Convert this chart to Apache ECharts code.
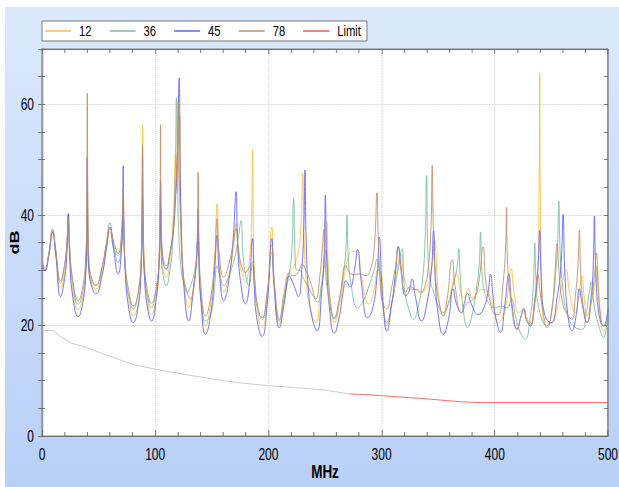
<!DOCTYPE html>
<html>
<head>
<meta charset="utf-8">
<script src="https://cdn.jsdelivr.net/npm/echarts@6/dist/echarts.min.js"></script>
<style>
  html, body { margin: 0; padding: 0; background: #fff; overflow: hidden; }
  #panel { position: absolute; left: 5px; top: 7px; right: 0; bottom: 0;
           background: linear-gradient(to bottom, #dce9fc 0%, #c9dcfa 50%, #b8cff7 100%); }
  #chart { position: absolute; left: 0; top: 0; height: 487px; transform-origin: 0 0; }
</style>
</head>
<body>
<div id="panel"></div>
<div id="chart"></div>
<script>
// Frequency sweep, [MHz, dB] pairs per measurement
const seriesNames = ['12', '36', '45', '78', 'Limit'];

const s12 = [
  [0,31.5],[2.6,29.9],[6,33],[9.4,37.4],[12,33.5],[16.4,26.6],[20,29.5],[22,34],[23.2,38.7],[24.5,33],
  [27,27],[32,22.8],[36,25],[38.5,29],[39.5,34],[40,44.5],[40.6,34],[41.5,30],[44,27.5],[47.6,26.6],
  [53,29.5],[57,34],[60,36.9],[63.5,34],[67.3,32.6],[70,35],[71.7,42.3],[72.5,35],[74,29],[77,24.5],
  [80.6,21.7],[85,24],[87.5,30],[88.3,40],[88.8,56.3],[89.4,40],[90.5,31],[93,25],[96.7,22],[101,25],
  [103.5,30],[104.7,44],[105.4,33],[107,30],[109.7,28.7],[113,32],[116,40],[118,51],[119.5,44],[121.7,58],
  [122.5,45],[124,33],[126,27],[129.7,23.2],[133,26],[136.5,32],[137.9,40],[138.7,31],[140.5,25],[144.4,19.9],
  [149,24],[152.5,32],[154.7,42],[156.5,32],[160.6,26],[165,29],[169,34],[171.4,38.4],[173.5,33],[176,30],
  [179.7,27.8],[183,31],[185,38],[185.9,51.7],[186.8,36],[188,28],[190.5,22.5],[194.4,19.6],[199,25],[203,37.8],
  [205,28],[209.7,20.2],[214,25],[218.5,29.5],[222,30.5],[226,33],[228.5,37],[230.3,47.5],[231.5,36],[233.5,28],
  [237,23],[242,20.5],[246,26],[249.5,31],[251.5,38.8],[253,30],[255,24],[258.2,20.5],[263,24],[267,29],
  [271.5,33],[274.4,33.4],[278.8,33.2],[282,29],[289,23.9],[293,26],[297,30],[300,29],[302,23],[304.4,19.9],
  [309,24],[313,29],[317,33],[319,30],[321,27.8],[327,26.5],[332.4,26.5],[336,26],[340,27],[344,30],
  [347,35.4],[349,29],[351,24],[354.4,21.7],[359,24],[362,27],[366.2,29.3],[370,26],[373,25],[376.5,26.7],
  [380,25],[385.3,26],[389,26.5],[394,26],[398,24],[403,20.5],[407,21.5],[411,25],[414.4,30.3],[417,26],
  [421,22.3],[425.6,23],[428,21.5],[431.5,20.5],[435,23],[438,30],[439.2,45],[439.7,65.7],[440.2,45],[441.5,28],
  [445,20],[450,20.5],[455,23],[459,27],[463,30.1],[466,26],[471.2,22.3],[474,25],[477,29],[479,25],
  [481.5,21.7],[485,24],[488,27],[490.3,30.7],[492.5,24],[496.2,19],[500,20]
];

const s36 = [
  [0,31.5],[2.6,29.9],[6,33],[9.4,36.9],[12,33.5],[16.4,27.7],[20,31],[22,35],[23.2,40.2],[24.5,34],
  [27,28],[32,23.8],[36,26],[38.5,30],[40,40],[41,31],[44,28],[47.6,27.2],[53,30.5],[57,35],
  [60,38.6],[63,35],[67.3,31.4],[70,34],[71.7,39.3],[72.8,33],[74.5,28],[77,25],[80.6,23],[85,26],
  [88,33],[88.8,43],[89.6,33],[91,28],[93,25.5],[96.7,23.2],[100,25.5],[103,30],[104.7,41],[105.5,32],
  [107,29],[109.7,27.2],[113,30],[115.5,35],[117.5,45],[118.8,61.2],[119.8,45],[121,36],[123,30],[125.5,27.5],
  [128.2,26],[131,27],[135,30],[137.9,35.7],[139,29],[141,24],[144.4,20.8],[149,22],[152,26],[154.7,30.8],
  [157,29],[160.6,27.2],[165,29],[170,32],[173.5,36],[175.9,39],[177.5,33],[180,29],[182.6,27.2],[185.9,31],
  [188,27],[190.5,23],[194.4,21.1],[199,26],[203,33.2],[205.5,27],[209.7,20.8],[214,25],[218,29],[220.5,33],
  [222.3,43],[223.5,33],[225,30],[227.3,30],[231,28.5],[235,27],[239,25.5],[243.5,24.2],[247,27.5],[250.9,33.5],
  [253,28],[255,24],[258.2,21.1],[262,24],[266,29],[268.5,34],[269.4,39.9],[270.5,33],[273,27.5],[278.8,23.2],
  [284,24.5],[288,26.6],[293.5,30],[296,32],[298,30],[301,24],[304.4,20.5],[309,24],[314,29.5],[318.2,33.9],
  [319.5,29],[321,25.4],[324,23],[328,21.1],[332,23],[336,28],[338.5,36],[339.7,47.1],[340.8,34],[343,28],
  [346,26],[350,23.5],[354.4,22.3],[359,24],[364,28],[367,31],[368.2,33.9],[369.5,29],[372,23],[375.9,19.6],
  [380,22],[384,27],[386.2,31],[387.4,36.9],[388.6,30],[391,26],[395,24],[400.6,23.2],[405,23.5],[410.9,23.2],
  [414.7,24.8],[418,22],[422,19],[427,17.5],[431,21],[434,27],[435.3,34.9],[436.5,28],[439,23],[446,19.9],
  [451,24],[454,30],[455.5,35],[456.5,42.5],[457.8,33],[460,27],[464,22],[470,19.8],[477,19.3],[481,22.5],
  [483.5,26],[485.3,27.9],[487.5,24],[491,20.5],[496.2,17.8],[500,24.6]
];

const s45 = [
  [0,31.5],[2.6,29.9],[6,32.5],[9.4,36.9],[12,33],[16.4,25.2],[20,28.5],[22,33],[23.2,40.2],[24.5,32],
  [27,25.5],[32,21.6],[36,24],[38.5,29],[39.5,36],[40,50.5],[40.6,36],[41.5,30],[44,27],[47.6,25.7],
  [53,29],[57,34],[60,37.8],[63,34],[67.3,29.3],[70,33],[71.2,40],[71.7,48.9],[72.3,38],[73.5,30],
  [76,24],[80.6,20.5],[85,23.5],[87.5,30],[88.4,38],[88.8,50.8],[89.3,37],[90.5,29],[93,23.5],[96.7,20.8],
  [101,25],[103.5,32],[104.3,38],[104.7,46],[105.2,37],[106.5,32],[109.7,30.2],[113,33],[116,37],[118,43],
  [119.5,50],[121.2,64.8],[122,50],[123,38],[125,28],[129.7,20.8],[133,25],[136.5,32],[137.9,41.1],[138.6,32],
  [140.5,24],[144.4,18.4],[149,22],[152.5,30],[154.7,36.3],[156.5,30],[160.6,24.5],[165,28],[169,36],[171.4,44.2],
  [173,34],[176,27],[179.7,23.9],[183,27],[185.9,35.7],[187.5,27],[190,21],[194.4,18],[199,24],[203,35.7],
  [205,27],[209.7,19.6],[214,24],[218.5,29],[221,28],[223,27],[226.5,25.2],[229.5,30],[231.3,38],[232.3,48.1],
  [233.3,36],[235.5,26],[239,21],[243,19],[247,26],[249.3,33],[250.3,43.6],[251.5,32],[254,23],[258.2,18.6],
  [263,22],[266,26],[268.5,28.1],[272.3,27],[276,30],[278.8,33.7],[282,28],[287.6,21.4],[292,23],[296,29],
  [298,36],[300,28],[302,22],[304.4,19],[309,24],[312.5,30],[314.7,34.3],[317,31],[321,25.4],[324,26],
  [327,28.4],[330,25],[335.3,20.8],[340,24],[344,30],[345.9,37.2],[347.5,28],[350,22],[354.4,18.4],[359,21],
  [363.2,26.6],[366,24],[370.6,22.3],[373,24],[375.9,25.8],[379,24],[385.3,22],[390,23],[394,26],[396.2,29.3],
  [398.5,25],[400.6,21.7],[405,18.7],[409,24],[412.4,29.3],[415,24],[419.7,19.3],[423,21.5],[425.6,23],[428,21],
  [431.5,19.9],[435,24],[438,30],[439.7,37.2],[441,28],[444,22],[450,20.5],[455,25],[458.5,31],[460.3,40.1],
  [461.8,30],[464.5,22],[468.2,19],[472,22],[474.7,26.6],[477,24],[481.5,20.5],[485,25],[487,31],[488,39.8],
  [489.2,30],[492,22],[496.2,19.9],[500,23]
];

const s78 = [
  [0,31.5],[2.6,30.3],[6,33],[9.4,37.4],[12,34],[16.4,28.1],[20,31],[22,35],[23.2,39.3],[24.5,34],
  [27,28.5],[32,24.5],[36,27],[38.5,32],[39.5,40],[40,62],[40.6,40],[41.5,32],[44,28.5],[47.6,27.3],
  [53,30.5],[57,35],[60,37.5],[63.5,35],[67.3,33],[70,36],[71.7,44.8],[72.5,37],[74,30],[77,26],
  [80.6,23.5],[85,26],[87.7,33],[88.4,40],[88.8,52.6],[89.3,40],[90.5,31],[93,26.5],[96.7,24],[101,27],
  [103.5,33],[104.2,40],[104.7,56.3],[105.2,40],[106.5,33],[109.7,30.8],[113,33],[116,38],[118,45],[119.5,50],
  [120.3,60.5],[121.2,48],[122.5,38],[124.5,30],[127,27],[131.2,24.8],[134.5,28],[137,34],[137.9,47.7],[138.8,34],
  [140.5,27],[144.4,21.7],[149,25],[152.5,32],[154.7,39.3],[156.5,33],[160.6,28.7],[165,31],[169,35],[171.4,37.5],
  [173.5,34],[176,31],[179.7,29.6],[183,30.5],[185.9,31.4],[188,28],[190.5,23.5],[194.4,21.4],[199,26],[203,34.5],
  [205.5,27],[209.7,21.1],[214,26],[218.5,29.5],[222,29],[226,29.5],[230,31],[233,30],[237,28],[242,24.8],
  [245.5,29],[248,35],[248.8,37.4],[250,32],[252.5,26],[258.2,21.4],[263,25],[268.5,30.8],[272,29.5],[276,29.2],
  [281,29.3],[286,29],[290,30],[293.5,34],[295.9,44],[297,36],[299,27],[301,24],[304.4,23],[309,27],
  [312.5,31],[314.7,34.2],[317,30],[321,26],[325,27],[330,26.5],[335,26],[338,27],[341,30],[343.5,37],
  [344.7,49],[345.8,37],[348,28],[351,24],[354.4,21.7],[358,25],[362.4,31.9],[365,27],[370.6,22.3],[375,23.9],
  [382,25],[386,28],[389.7,34.2],[392,28],[395,25],[400.6,22],[403.5,22],[407,27],[409.5,34],[410.3,41.3],
  [411.2,32],[414,25],[419.7,19.3],[423,21.5],[425.6,23],[428,21],[431.5,20.2],[435,24],[438,29.3],[440,26],
  [443,22],[446,19.6],[450,22],[453,29],[455,34.8],[457,29],[460,24],[464,22],[468.2,21.1],[471,25],
  [473.5,31],[474.7,37.2],[476,29],[478.5,23],[481.5,20.5],[485,24],[488,29],[489.7,33.1],[491.5,26],[494,21],
  [496.2,19.9],[500,21]
];

// Limit curve: lower-frequency part drawn in grey, the rest in red
const limitGrey = [
  [0,19.1],[10,19.1],[16,18],[26,16.8],[36,16.2],[51,15.1],[63,14.2],[81,12.9],[98,12.2],[110,11.7],
  [130,11],[154,10.2],[175,9.6],[200,9.1],[228,8.7],[250,8.3],[272,7.6]
];
const limitRed = [
  [272,7.6],[285,7.5],[300,7.3],[320,7.0],[335,6.8],[352,6.5],[370,6.2],[385,6.05],[500,6.05]
];

const xTicks = { min: 0, max: 500, step: 100, minorSplit: 5 };
const yTicks = { min: 0, max: 70, step: 20, minorStep: 5 };

const colors = { '12': '#ffbf40', '36': '#78bf9c', '45': '#6262ff', '78': '#c08e6a', 'Limit': '#ff5252', grey: '#c4c4c4' };

// The chart is laid out wide and squeezed horizontally, which gives the condensed lettering
const SX = 0.75;
const W = 619, H = 487;
const hx = v => v / SX;   // horizontal length in the unsqueezed layout

const font = "'Liberation Sans', Arial, sans-serif";

function lineSeries(name, data) {
  return {
    name: name, type: 'line', data: data, xAxisIndex: 0, yAxisIndex: 0,
    symbol: 'none', showSymbol: false, smooth: 0.5,
    lineStyle: { width: 1, color: colors[name] }, itemStyle: { color: colors[name] },
    silent: true, animation: false
  };
}

const el = document.getElementById('chart');
el.style.width = hx(W) + 'px';
el.style.transform = 'scaleX(' + SX + ')';

const chart = echarts.init(el, null, { renderer: 'svg', width: hx(W), height: H });
chart.setOption({
  backgroundColor: 'transparent',
  animation: false,
  legend: {
    data: seriesNames,
    icon: 'rect',
    left: hx(42), top: 21,
    padding: [1, hx(6), 1, hx(3)],
    itemWidth: hx(26), itemHeight: 1.5, itemGap: 24,
    backgroundColor: '#ffffff', borderColor: '#666', borderWidth: 1, borderRadius: 0,
    textStyle: { fontFamily: font, fontSize: 15, lineHeight: 18, color: '#000', padding: [0, 0, 0, 5.7] },
    selectedMode: false
  },
  grid: {
    left: hx(42), right: hx(11), top: 49, bottom: 51,
    show: true, backgroundColor: '#ffffff', borderColor: '#777', borderWidth: 1,
    containLabel: false, outerBoundsMode: 'none'
  },
  xAxis: [
    {
      type: 'value', position: 'bottom', min: xTicks.min, max: xTicks.max, interval: xTicks.step,
      name: 'MHz', nameLocation: 'middle', nameGap: 27, nameMoveOverlap: false,
      nameTextStyle: { fontFamily: font, fontSize: 18, fontWeight: 'bold', color: '#000' },
      axisLine: { show: true, onZero: false, lineStyle: { color: '#666', width: 1 } },
      axisTick: { show: true, inside: true, length: 6, lineStyle: { color: '#666' } },
      minorTick: { show: true, splitNumber: xTicks.minorSplit, length: 4, lineStyle: { color: '#666' } },
      axisLabel: { margin: 10, fontFamily: font, fontSize: 16, color: '#000' },
      splitLine: { show: true, lineStyle: { type: 'dotted', color: '#c8c8c8' } }
    },
    {
      type: 'value', position: 'top', min: xTicks.min, max: xTicks.max, interval: xTicks.step,
      axisLine: { show: true, onZero: false, lineStyle: { color: '#666', width: 1 } },
      axisTick: { show: true, inside: true, length: 5, lineStyle: { color: '#666' } },
      minorTick: { show: true, splitNumber: xTicks.minorSplit, length: 4, lineStyle: { color: '#666' } },
      axisLabel: { show: false }, splitLine: { show: false }
    }
  ],
  yAxis: [
    {
      type: 'value', position: 'left', min: yTicks.min, max: yTicks.max, interval: yTicks.minorStep,
      name: 'dB', nameLocation: 'middle', nameGap: 28, nameRotate: 90, nameMoveOverlap: false,
      nameTextStyle: { fontFamily: font, fontSize: 18, fontWeight: 'bold', color: '#000' },
      axisLine: { show: true, onZero: false, lineStyle: { color: '#999', width: 2.5 } },
      axisTick: { show: true, inside: false, length: hx(4), lineStyle: { color: '#666' } },
      axisLabel: {
        margin: hx(8), fontFamily: font, fontSize: 16, color: '#000',
        formatter: function (v) { return v % yTicks.step === 0 ? String(v) : ''; }
      },
      splitLine: { show: false }
    },
    {
      type: 'value', position: 'left', min: yTicks.min, max: yTicks.max, interval: yTicks.step,
      axisLine: { show: false }, axisTick: { show: false }, axisLabel: { show: false },
      splitLine: { show: true, lineStyle: { type: 'dotted', color: '#c8c8c8' } }
    },
    {
      type: 'value', position: 'right', min: yTicks.min, max: yTicks.max, interval: yTicks.minorStep,
      axisLine: { show: true, onZero: false, lineStyle: { color: '#777', width: 1.3 } },
      axisTick: { show: true, inside: true, length: hx(4), lineStyle: { color: '#666' } },
      axisLabel: { show: false }, splitLine: { show: false }
    },
    {
      type: 'value', position: 'left', min: yTicks.min, max: yTicks.max, interval: yTicks.minorStep,
      axisLine: { show: false },
      axisTick: { show: true, inside: true, length: hx(3), lineStyle: { color: '#666' } },
      axisLabel: { show: false }, splitLine: { show: false }
    }
  ],
  series: [
    lineSeries('12', s12),
    lineSeries('36', s36),
    lineSeries('45', s45),
    lineSeries('78', s78),
    {
      name: 'limitGrey', type: 'line', data: limitGrey, xAxisIndex: 0, yAxisIndex: 0,
      symbol: 'none', showSymbol: false, lineStyle: { width: 1, color: colors.grey }, silent: true
    },
    {
      name: 'Limit', type: 'line', data: limitRed, xAxisIndex: 0, yAxisIndex: 0,
      symbol: 'none', showSymbol: false, lineStyle: { width: 1, color: colors.Limit },
      itemStyle: { color: colors.Limit }, silent: true
    }
  ]
});
</script>
</body>
</html>
